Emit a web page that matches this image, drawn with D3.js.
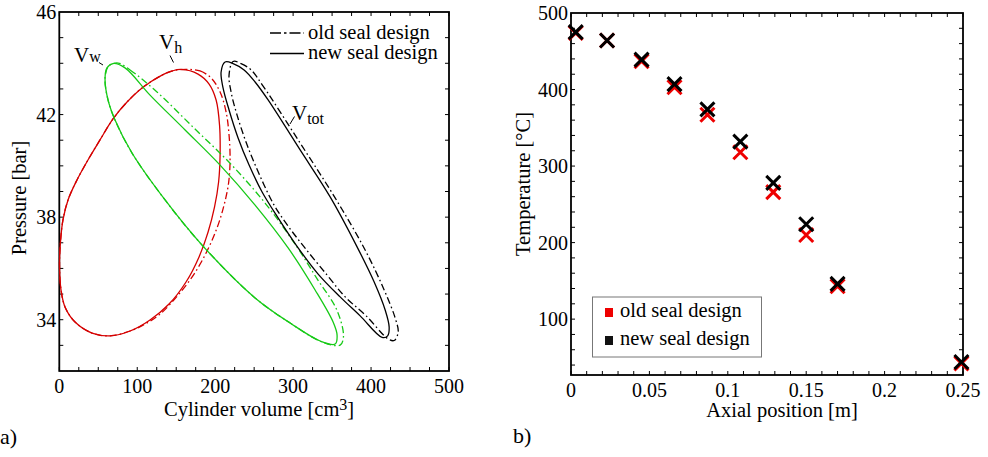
<!DOCTYPE html>
<html>
<head>
<meta charset="utf-8">
<script src="https://cdn.jsdelivr.net/npm/d3@7"></script>
<style>
  body { margin: 0; background: #fff; }
  svg { font-family: "Liberation Serif", "DejaVu Serif", serif; }
</style>
</head>
<body>
<div id="chart"></div>
<script>
// panel a) p-V loops, [volume cm3, pressure bar]
const vwNew = [[68.9,43.99],[84.3,43.82],[116.4,42.76],[161.4,41.40],[206.3,40.03],[251.2,38.47],[293.6,36.80],[328.2,35.16],[351.3,33.91],[356.4,33.40],[353.9,33.05],[334.7,33.17],[296.2,33.87],[251.2,34.85],[183.2,36.91],[135.7,38.67],[93.3,40.50],[71.5,41.79],[62.5,42.57],[58.7,43.43],[61.2,43.82]];
const vwOld = [[75.5,44.01],[90.8,43.74],[125.0,42.89],[171.6,41.51],[219.1,40.10],[264.0,38.55],[304.7,36.85],[330.4,35.61],[356.1,34.38],[364.6,33.34],[360.3,33.01],[337.2,33.13],[296.2,33.87],[251.2,34.85],[183.2,36.91],[135.7,38.67],[93.3,40.50],[71.5,41.79],[62.5,42.57],[58.7,43.43],[63.5,43.90]];
const vhNew = [[156.2,43.76],[178.0,43.58],[192.2,43.19],[201.2,42.57],[205.6,41.59],[206.3,40.42],[204.4,39.37],[199.2,38.40],[190.9,37.42],[179.3,36.45],[162.6,35.47],[140.8,34.61],[116.4,33.99],[90.8,33.56],[65.1,33.37],[42.0,33.48],[20.2,33.91],[7.3,34.50],[2.2,35.16],[0.3,36.13],[1.5,37.03],[4.7,37.89],[11.2,38.67],[22.7,39.45],[36.8,40.23],[52.2,41.01],[68.9,41.83],[86.9,42.49],[106.2,43.04],[131.8,43.54],[144.7,43.70]];
const vhOld = [[165.2,43.76],[180.6,43.70],[194.7,43.43],[206.3,42.88],[214.0,42.10],[217.8,41.20],[219.1,40.23],[217.2,39.33],[211.4,38.47],[202.4,37.58],[189.6,36.68],[172.9,35.78],[152.4,34.96],[129.3,34.22],[110.0,33.83],[90.8,33.56],[65.1,33.37],[42.0,33.48],[20.2,33.91],[7.3,34.50],[2.2,35.16],[0.3,36.13],[1.5,37.03],[4.7,37.89],[11.2,38.67],[22.7,39.45],[36.8,40.23],[52.2,41.01],[68.9,41.83],[86.9,42.49],[106.2,43.04],[131.8,43.54],[148.0,43.72]];
const vtotNew = [[212.7,44.05],[223.0,43.99],[237.1,43.74],[251.2,43.27],[267.9,42.57],[309.0,40.62],[347.5,38.79],[380.9,36.91],[404.0,35.47],[418.1,34.38],[423.2,33.72],[421.3,33.37],[414.2,33.31],[386.0,34.15],[360.3,34.89],[332.1,35.78],[303.9,36.91],[280.7,37.97],[260.2,38.98],[243.5,40.03],[229.4,41.09],[217.8,42.18],[210.1,43.04],[207.6,43.66]];
const vtotOld = [[223.0,44.07],[233.2,43.99],[246.1,43.74],[261.5,43.11],[309.0,40.89],[353.9,38.75],[392.4,36.72],[416.8,35.16],[430.9,34.07],[434.8,33.52],[429.7,33.19],[421.9,33.25],[393.7,34.15],[366.8,34.89],[343.6,35.74],[314.1,36.84],[293.6,37.65],[275.6,38.47],[257.6,39.60],[241.0,40.81],[228.1,41.98],[220.4,42.88],[217.8,43.54]];

const volTicks = [0, 100, 200, 300, 400, 500];
const presTicks = [34, 38, 42, 46];

// panel b) temperatures along the axis
const axialPos = [0.003, 0.023, 0.045, 0.066, 0.087, 0.108, 0.129, 0.150, 0.170, 0.249];
const tempOld = [474, 464, 437, 403, 367, 318, 266, 210, 143, 42];
const tempNew = [475, 464, 439, 407, 374, 332, 278, 224, 146, 44];
const posTicks = [0, 0.05, 0.1, 0.15, 0.2, 0.25];
const tempTicks = [100, 200, 300, 400, 500];

const legendNames = ['old seal design', 'new seal design'];

const W = 988, H = 457;
const svg = d3.select('#chart').append('svg').attr('width', W).attr('height', H);

const RED = '#d40000', GREEN = '#16c916';
const DASH = '7,3,1.6,3';

function frame(g, x, y, xMinor, yMinor, xMajor, yMajor, xFmt, yFmt) {
    const [x0, x1] = x.range(), [y1, y0] = y.range();
    const tick = 4;
    // ticks point inward on all four sides
    g.selectAll('line.xt').data(xMinor).join('line').attr('class', 'xt')
        .attr('x1', d => x(d)).attr('x2', d => x(d)).attr('y1', y1).attr('y2', y1 - tick);
    g.selectAll('line.xt2').data(xMinor).join('line').attr('class', 'xt2')
        .attr('x1', d => x(d)).attr('x2', d => x(d)).attr('y1', y0).attr('y2', y0 + tick);
    g.selectAll('line.yt').data(yMinor).join('line').attr('class', 'yt')
        .attr('x1', x0).attr('x2', x0 + tick).attr('y1', d => y(d)).attr('y2', d => y(d));
    g.selectAll('line.yt2').data(yMinor).join('line').attr('class', 'yt2')
        .attr('x1', x1).attr('x2', x1 - tick).attr('y1', d => y(d)).attr('y2', d => y(d));
    g.selectAll('line').attr('stroke', '#000').attr('stroke-width', 1);
    g.append('rect').attr('x', x0).attr('y', y0).attr('width', x1 - x0).attr('height', y1 - y0)
        .attr('fill', 'none').attr('stroke', '#000').attr('stroke-width', 1.8);

    g.selectAll('text.xl').data(xMajor).join('text').attr('class', 'xl')
        .attr('x', d => x(d)).attr('y', y1 + 22).attr('text-anchor', 'middle')
        .style('font-size', '20px').text(xFmt);
    g.selectAll('text.yl').data(yMajor).join('text').attr('class', 'yl')
        .attr('x', x0 - 3).attr('y', d => y(d) + 7).attr('text-anchor', 'end')
        .style('font-size', '20px').text(yFmt);
}

// ---------- panel a ----------
const xa = d3.scaleLinear().domain([0, 500]).range([59.3, 449]);
const ya = d3.scaleLinear().domain([32, 46]).range([371, 12]);
const ga = svg.append('g');

frame(ga, xa, ya, d3.range(0, 501, 25), d3.range(33, 46, 1), volTicks, presTicks, d => d, d => d);

const loop = d3.line().x(d => xa(d[0])).y(d => ya(d[1])).curve(d3.curveCatmullRomClosed.alpha(0.5));
const loops = [
    [vhNew, RED, null], [vhOld, RED, DASH],
    [vwNew, GREEN, null], [vwOld, GREEN, DASH],
    [vtotNew, '#000', null], [vtotOld, '#000', DASH]
];
ga.selectAll('path.loop').data(loops).join('path').attr('class', 'loop')
    .attr('d', d => loop(d[0])).attr('fill', 'none')
    .attr('stroke', d => d[1]).attr('stroke-width', 1.3)
    .attr('stroke-dasharray', d => d[2]);

// loop labels with short leader ticks
function vlabel(x, y, sub, dy) {
    const t = ga.append('text').attr('x', x).attr('y', y).style('font-size', '21px');
    t.append('tspan').text('V');
    t.append('tspan').attr('dy', dy).style('font-size', '16px').text(sub);
}
vlabel(74, 62, 'w', 0);
vlabel(159, 49, 'h', 4);
vlabel(292, 120, 'tot', 4);
const leaders = [[99, 62.5, 103, 65], [170, 55.5, 173.5, 62.5], [290, 124, 294.5, 116.5]];
ga.selectAll('line.lead').data(leaders).join('line').attr('class', 'lead')
    .attr('x1', d => d[0]).attr('y1', d => d[1]).attr('x2', d => d[2]).attr('y2', d => d[3])
    .attr('stroke', '#000').attr('stroke-width', 1);

// legend a
const lga = ga.append('g');
lga.selectAll('line').data(legendNames).join('line')
    .attr('x1', 270).attr('x2', 304).attr('y1', (d, i) => 33 + i * 20.5).attr('y2', (d, i) => 33 + i * 20.5)
    .attr('stroke', '#000').attr('stroke-width', 1.3)
    .attr('stroke-dasharray', (d, i) => i === 0 ? '11,3,2.5,3' : null);
lga.selectAll('text').data(legendNames).join('text')
    .attr('x', 308).attr('y', (d, i) => 38.5 + i * 20.5).style('font-size', '20.5px').text(d => d);

const xTitle = ga.append('text').attr('x', 164).attr('y', 416).style('font-size', '20.5px');
xTitle.append('tspan').text('Cylinder volume [cm');
xTitle.append('tspan').attr('dy', -6).style('font-size', '16px').text('3');
xTitle.append('tspan').attr('dy', 6).text(']');
ga.append('text').attr('transform', 'translate(26,198) rotate(-90)').attr('text-anchor', 'middle')
    .style('font-size', '20.5px').text('Pressure [bar]');
ga.append('text').attr('x', 0).attr('y', 444).style('font-size', '22px').text('a)');

// ---------- panel b ----------
const xb = d3.scaleLinear().domain([0, 0.25]).range([571, 963]);
const yb = d3.scaleLinear().domain([27, 500]).range([375, 13]);
const gb = svg.append('g');

frame(gb, xb, yb, d3.range(0, 26, 1).map(d => d / 100), d3.range(40, 500, 20), posTicks, tempTicks,
    d => d === 0 ? '0' : String(+d.toFixed(2)), d => d);

const cross = 'M-7,-7L7,7M-7,7L7,-7';
const pts = [
    ...axialPos.map((p, i) => ({ x: p, y: tempOld[i], c: '#ee0000' })),
    ...axialPos.map((p, i) => ({ x: p, y: tempNew[i], c: '#000' }))
];
gb.selectAll('path.pt').data(pts).join('path').attr('class', 'pt')
    .attr('transform', d => `translate(${xb(d.x)},${yb(d.y)})`)
    .attr('d', cross).attr('fill', 'none').attr('stroke', d => d.c).attr('stroke-width', 3);

// legend b
const lgb = gb.append('g');
lgb.append('rect').attr('x', 592.5).attr('y', 297).attr('width', 169).attr('height', 60)
    .attr('fill', '#fff').attr('stroke', '#777').attr('stroke-width', 1);
lgb.selectAll('rect.sw').data(legendNames).join('rect').attr('class', 'sw')
    .attr('x', 605).attr('y', (d, i) => 308 + i * 28).attr('width', 8).attr('height', 9)
    .attr('fill', (d, i) => i === 0 ? '#ee0000' : '#111');
lgb.selectAll('text').data(legendNames).join('text')
    .attr('x', 620).attr('y', (d, i) => 317 + i * 27.5).style('font-size', '20.5px').text(d => d);

gb.append('text').attr('x', 782).attr('y', 417).attr('text-anchor', 'middle')
    .style('font-size', '20.5px').text('Axial position [m]');
gb.append('text').attr('transform', 'translate(530,184) rotate(-90)').attr('text-anchor', 'middle')
    .style('font-size', '20.5px').text('Temperature [°C]');
gb.append('text').attr('x', 513).attr('y', 443).style('font-size', '22px').text('b)');
</script>
</body>
</html>
